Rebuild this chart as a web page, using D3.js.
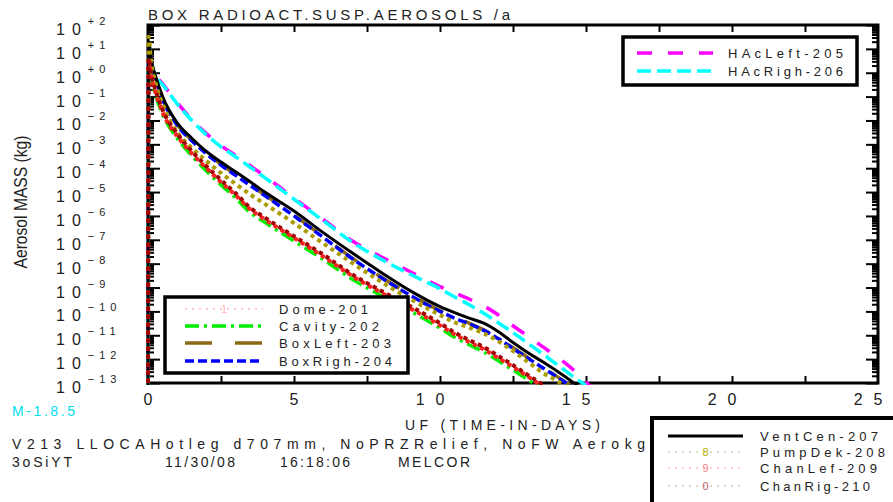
<!DOCTYPE html>
<html>
<head>
<meta charset="utf-8">
<script src="https://cdn.jsdelivr.net/npm/d3@7/dist/d3.min.js"></script>
<style>
  html, body { margin: 0; padding: 0; background: #fff; }
  svg { display: block; }
  text { font-family: "Liberation Sans", Arial, Helvetica, sans-serif; fill: #222; white-space: pre; }
</style>
</head>
<body>
<svg id="chart" width="893" height="502"></svg>
<script>
// ---- data: suspended aerosol mass (kg) per control volume vs. time (days) ----
const timeDays = [0, 0.02, 0.1, 0.25, 0.5, 1, 1.5, 2, 2.5, 3, 3.5, 4, 5, 6, 7, 8, 9, 10, 10.5, 11, 11.5, 12, 12.5, 13, 13.5, 14, 14.5, 15, 15.5];

const dome201   = [1e-14, 3.5, 0.89, 0.18, 0.025, 2.5e-3, 4.8e-4, 1.1e-4, 2.9e-5, 8.1e-6, 2.0e-6, 7.8e-7, 1.3e-7, 2.2e-8, 3.2e-9, 6.5e-10, 1.45e-10, 2.9e-11, 1.2e-11, 5.8e-12, 2.9e-12, 1.2e-12, 5.1e-13, 2.0e-13, 8.1e-14, null, null, null, null];
const cavity202 = [1e-14, 2.5, 0.63, 0.126, 0.018, 1.8e-3, 3.3e-4, 7.6e-5, 2.0e-5, 5.6e-6, 1.4e-6, 5.4e-7, 8.9e-8, 1.5e-8, 2.2e-9, 4.5e-10, 1.0e-10, 2.0e-11, 8.3e-12, 4.0e-12, 2.0e-12, 8.5e-13, 3.5e-13, 1.4e-13, 5.6e-14, null, null, null, null];
const boxLeft203 = [1e-14, 17, 3.4, 0.67, 0.085, 6.7e-3, 1.5e-3, 4.3e-4, 1.45e-4, 5.4e-5, 2.0e-5, 7.6e-6, 1.07e-6, 1.35e-7, 1.7e-8, 2.7e-9, 4.8e-10, 1.07e-10, 5.6e-11, 3.2e-11, 1.7e-11, 7.6e-12, 3.0e-12, 1.18e-12, 4.8e-13, 1.9e-13, 7.6e-14, null, null];
const boxRigh204 = [1e-14, 16, 3.2, 0.63, 0.079, 6.3e-3, 1.4e-3, 4.0e-4, 1.35e-4, 5.0e-5, 1.9e-5, 7.1e-6, 1.0e-6, 1.26e-7, 1.6e-8, 2.5e-9, 4.5e-10, 1.0e-10, 5.2e-11, 3.0e-11, 1.6e-11, 7.1e-12, 2.8e-12, 1.1e-12, 4.5e-13, 1.8e-13, 7.1e-14, null, null];
const hacLeft205 = [1e-14, 18, 3.5, 0.89, 0.35, 0.056, 0.011, 2.8e-3, 8.9e-4, 3.4e-4, 1.26e-4, 4.7e-5, 5.6e-6, 7.1e-7, 8.9e-8, 1.9e-8, 4.5e-9, 1.1e-9, 6.0e-10, 3.3e-10, 1.7e-10, 7.1e-11, 2.5e-11, 9.3e-12, 3.4e-12, 1.26e-12, 4.2e-13, 1.07e-13, 3.2e-14];
const hacRigh206 = [1e-14, 16, 3.2, 0.79, 0.32, 0.05, 0.01, 2.5e-3, 7.9e-4, 3.0e-4, 1.1e-4, 4.0e-5, 5.0e-6, 6.3e-7, 7.9e-8, 1.5e-8, 3.5e-9, 8.9e-10, 4.0e-10, 1.9e-10, 8.3e-11, 3.3e-11, 1.3e-11, 4.7e-12, 1.7e-12, 6.0e-13, 2.1e-13, 7.9e-14, null];
const ventCen207 = [1e-14, 20, 4.0, 0.79, 0.1, 7.9e-3, 1.8e-3, 5.0e-4, 1.8e-4, 7.1e-5, 2.7e-5, 1.0e-5, 1.6e-6, 2.0e-7, 2.8e-8, 4.2e-9, 7.1e-10, 1.6e-10, 8.9e-11, 5.2e-11, 3.2e-11, 1.4e-11, 5.0e-12, 1.9e-12, 7.9e-13, 3.2e-13, 1.2e-13, 4.0e-14, null];
const pumpDek208 = [1e-14, 32, 3.2, 0.4, 0.05, 3.2e-3, 7.1e-4, 2.0e-4, 6.3e-5, 2.2e-5, 7.9e-6, 3.2e-6, 5.0e-7, 7.1e-8, 1.05e-8, 1.7e-9, 3.2e-10, 7.1e-11, 3.5e-11, 2.1e-11, 1.2e-11, 5.6e-12, 2.2e-12, 7.9e-13, 2.8e-13, 1.26e-13, 5.0e-14, null, null];
const chanLef209 = [1e-14, 3.2, 0.79, 0.16, 0.022, 2.2e-3, 4.2e-4, 1.0e-4, 2.6e-5, 7.4e-6, 1.9e-6, 7.1e-7, 1.2e-7, 2.0e-8, 3.0e-9, 6.0e-10, 1.3e-10, 2.6e-11, 1.1e-11, 5.2e-12, 2.6e-12, 1.1e-12, 4.7e-13, 1.9e-13, 7.4e-14, null, null, null, null];
const chanRig210 = [1e-14, 4.0, 1.0, 0.2, 0.028, 2.8e-3, 5.2e-4, 1.2e-4, 3.2e-5, 8.9e-6, 2.2e-6, 8.5e-7, 1.4e-7, 2.4e-8, 3.5e-9, 7.1e-10, 1.6e-10, 3.2e-11, 1.3e-11, 6.3e-12, 3.2e-12, 1.35e-12, 5.6e-13, 2.2e-13, 8.9e-14, null, null, null, null];

const seriesNames = ["Dome-201", "Cavity-202", "BoxLeft-203", "BoxRigh-204", "HAcLeft-205", "HAcRigh-206", "VentCen-207", "PumpDek-208", "ChanLef-209", "ChanRig-210"];
const seriesValues = [dome201, cavity202, boxLeft203, boxRigh204, hacLeft205, hacRigh206, ventCen207, pumpDek208, chanLef209, chanRig210];

const xTickValues = [0, 5, 10, 15, 20, 25];
const xTickLabels = ["0", "5", "10", "15", "20", "25"];
const yExponents = [2, 1, 0, -1, -2, -3, -4, -5, -6, -7, -8, -9, -10, -11, -12, -13];

// ---- line styles, in series order ----
const styles = [
  { color: "#ff8a8a", dash: "2,5",        width: 2.5, legendColor: "#ffb8b8", marker: "1" },
  { color: "#00ee00", dash: "14,5,3,5",   width: 3.5 },
  { color: "#8b6914", dash: "27,23",      width: 3.5 },
  { color: "#0000ff", dash: "9,4",        width: 3.5 },
  { color: "#ff00ff", dash: "15,16",      width: 3.5 },
  { color: "#00ffff", dash: "14,6",       width: 3.5 },
  { color: "#000000", dash: null,         width: 3 },
  { color: "#aa9b00", dash: "4,4",        width: 4, legendColor: "#d8d4a8", marker: "8", markerColor: "#b8b000" },
  { color: "#ff2020", dash: "4,4",        width: 4, legendColor: "#ffc0c0", marker: "9", markerColor: "#ff8080" },
  { color: "#a00000", dash: "4,4",        width: 4, legendColor: "#e0c0c0", marker: "0", markerColor: "#c06060" }
];

const svg = d3.select("#chart");
const W = 893, H = 502;
const plot = { left: 148, right: 878, top: 25, bottom: 383 };

const x = d3.scaleLinear().domain([0, 25]).range([plot.left, plot.right]);
const y = d3.scaleLog().domain([1e-13, 1e2]).range([plot.bottom, plot.top]);

svg.append("rect").attr("width", W).attr("height", H).attr("fill", "#fff");

// ---- tick marks (inward) on all four sides ----
const majorY = yExponents.map(e => Math.pow(10, e));
const minorY = [];
for (let e = -13; e < 2; e++) for (let m = 2; m <= 9; m++) minorY.push(m * Math.pow(10, e));
const xQuarter = d3.range(2.5, 25, 2.5);

function tickAxis(axis, tx, ty) {
  const g = svg.append("g").attr("transform", `translate(${tx},${ty})`).call(axis);
  g.select(".domain").remove();
  g.selectAll("text").remove();
  g.selectAll("line").attr("stroke", "#000").attr("stroke-width", 2);
  return g;
}
tickAxis(d3.axisRight(y).tickValues(majorY).tickSize(12).tickFormat(""), plot.left, 0);
tickAxis(d3.axisRight(y).tickValues(minorY).tickSize(6).tickFormat(""), plot.left, 0);
tickAxis(d3.axisLeft(y).tickValues(majorY).tickSize(12).tickFormat(""), plot.right, 0);
tickAxis(d3.axisLeft(y).tickValues(minorY).tickSize(6).tickFormat(""), plot.right, 0);
tickAxis(d3.axisBottom(x).tickValues(xQuarter).tickSize(7).tickFormat(""), 0, plot.top);
tickAxis(d3.axisTop(x).tickValues(xQuarter).tickSize(7).tickFormat(""), 0, plot.bottom);

// frame
svg.append("rect")
  .attr("x", plot.left).attr("y", plot.top)
  .attr("width", plot.right - plot.left).attr("height", plot.bottom - plot.top)
  .attr("fill", "none").attr("stroke", "#000").attr("stroke-width", 3);

// ---- y tick labels: 10 with signed exponent ----
const yLab = svg.append("g");
yExponents.forEach(e => {
  const t = yLab.append("text")
    .attr("x", 56).attr("y", y(Math.pow(10, e)) + 10)
    .attr("font-size", 16).attr("letter-spacing", 7);
  t.append("tspan").text("10");
  t.append("tspan")
    .attr("font-size", 11).attr("letter-spacing", 5).attr("dy", -10).attr("dx", 0)
    .text((e >= 0 ? "+" : "\u2212") + Math.abs(e));
});

// ---- x tick labels: last digit centred under its tick ----
const digitW = 8.9, xLs = 11;
xTickValues.forEach((v, i) => {
  const s = xTickLabels[i];
  svg.append("text")
    .attr("x", x(v) - digitW / 2 - (s.length - 1) * (digitW + xLs))
    .attr("y", 405)
    .attr("font-size", 16).attr("letter-spacing", xLs)
    .text(s);
});

// ---- series ----
const clipId = "plotClip";
svg.append("clipPath").attr("id", clipId).append("rect")
  .attr("x", plot.left - 4).attr("y", plot.top)
  .attr("width", plot.right - plot.left + 4).attr("height", plot.bottom - plot.top + 2);

const line = d3.line()
  .defined(d => d.v != null)
  .x(d => x(d.t))
  .y(d => y(d.v))
  .curve(d3.curveMonotoneX);

const gSeries = svg.append("g").attr("clip-path", `url(#${clipId})`);
seriesValues.forEach((vals, i) => {
  const pts = timeDays.map((t, k) => ({ t: t, v: vals[k] }));
  const st = styles[i];
  gSeries.append("path")
    .datum(pts)
    .attr("d", line)
    .attr("fill", "none")
    .attr("stroke", st.color)
    .attr("stroke-width", st.width)
    .attr("stroke-dasharray", st.dash)
    .attr("stroke-linejoin", "round");
});

// ---- legends ----
function label(xp, yp, str, len, size, color) {
  const t = svg.append("text")
    .attr("x", xp).attr("y", yp)
    .attr("font-size", size || 13)
    .text(str);
  if (len) t.attr("textLength", len).attr("lengthAdjust", "spacing");
  if (color) t.style("fill", color);
  return t;
}

function legendBox(bx, by, bw, bh, sw) {
  svg.append("rect")
    .attr("x", bx).attr("y", by).attr("width", bw).attr("height", bh)
    .attr("fill", "#fff").attr("stroke", "#000").attr("stroke-width", sw);
}

function legendEntry(idx, x0, x1, ly, tx, tlen) {
  const st = styles[idx];
  const dotted = !!st.marker;
  svg.append("line")
    .attr("x1", x0).attr("x2", x1).attr("y1", ly).attr("y2", ly)
    .attr("stroke", dotted ? st.legendColor : st.color)
    .attr("stroke-width", dotted ? 1.5 : st.width)
    .attr("stroke-dasharray", dotted ? "2,5" : st.dash);
  if (dotted) {
    svg.append("text")
      .attr("x", (x0 + x1) / 2).attr("y", ly + 4)
      .attr("text-anchor", "middle").attr("font-size", 11)
      .style("fill", st.markerColor || st.legendColor)
      .text(st.marker);
  }
  label(tx, ly + 5, seriesNames[idx], tlen, 13);
}

// upper-right legend
legendBox(623, 37, 234, 48, 3.5);
legendEntry(4, 637, 713, 53, 728, 115);
legendEntry(5, 637, 713, 71, 728, 115);

// lower-left legend
legendBox(165, 297, 243, 76, 3.5);
legendEntry(0, 185, 263, 309, 279, 89);
legendEntry(1, 185, 263, 326, 279, 100);
legendEntry(2, 185, 263, 343, 279, 112);
legendEntry(3, 185, 263, 361, 279, 113);

// ---- titles and annotation text ----
label(148, 20, "BOX RADIOACT.SUSP.AEROSOLS /a", 362, 15);

svg.append("text")
  .attr("transform", "translate(27,202) rotate(-90)")
  .attr("text-anchor", "middle")
  .attr("font-size", 19)
  .style("font-family", "'Liberation Sans Narrow','Arial Narrow','Liberation Sans',sans-serif")
  .attr("textLength", 133).attr("lengthAdjust", "spacingAndGlyphs")
  .text("Aerosol MASS (kg)");

label(12, 416, "M-1.8.5", 63, 14, "#00e0f0");
label(405, 430, "UF (TIME-IN-DAYS)", 195, 14);
label(12, 449, "V213 LLOCAHotleg d707mm, NoPRZRelief, NoFW Aerokg", 633, 14);
label(12, 467, "3oSiYT", 60, 14);
label(165, 467, "11/30/08", 70, 14);
label(280, 467, "16:18:06", 70, 14);
label(398, 467, "MELCOR", 72, 14);

// lower-right legend (runs off the page edge)
legendBox(652, 418, 260, 100, 4);
legendEntry(6, 668, 743, 436, 760, 118);
legendEntry(7, 668, 743, 452, 760, 125);
legendEntry(8, 668, 743, 468, 760, 117);
legendEntry(9, 668, 743, 486, 760, 110);
</script>
</body>
</html>
